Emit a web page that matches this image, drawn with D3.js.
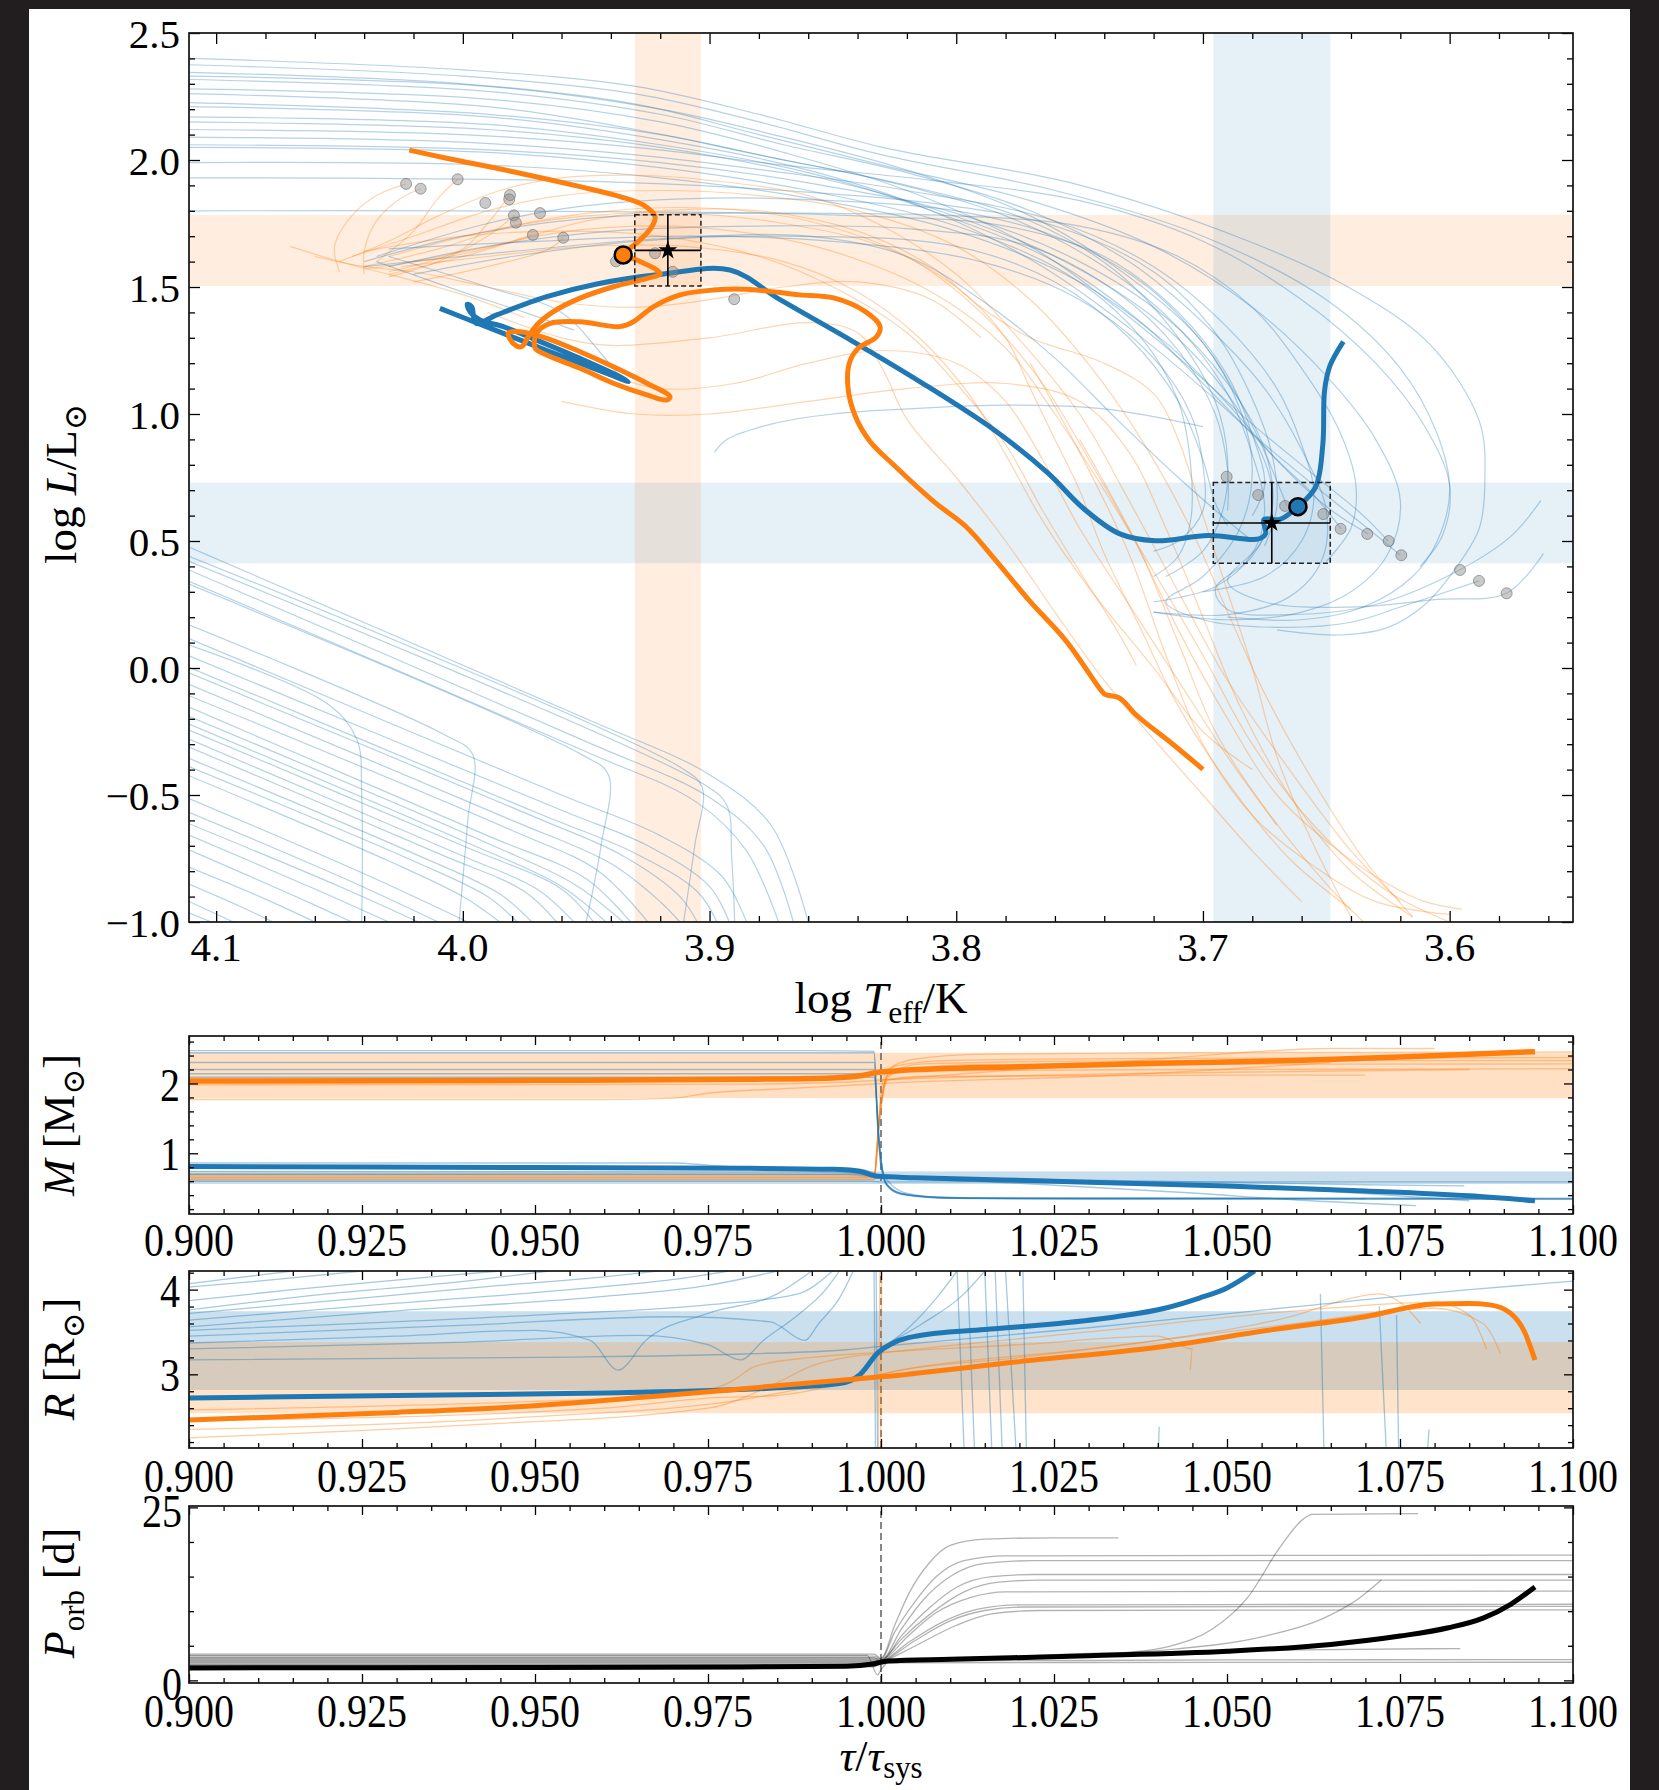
<!DOCTYPE html>
<html><head><meta charset="utf-8">
<script src="https://cdn.jsdelivr.net/npm/d3@7"></script>
<style>
body{margin:0;background:#221e1f;}
svg{display:block;}
text{font-family:"Liberation Serif","DejaVu Serif",serif;fill:#000;}
</style></head>
<body><svg id="c" width="1659" height="1790"></svg>
<script>
// ---------------- DATA ----------------
const teffTicks = [4.1, 4.0, 3.9, 3.8, 3.7, 3.6];
const teffTickLabels = ["4.1", "4.0", "3.9", "3.8", "3.7", "3.6"];
const lumTicks = [2.5, 2.0, 1.5, 1.0, 0.5, 0.0, -0.5, -1.0];
const lumTickLabels = ["2.5", "2.0", "1.5", "1.0", "0.5", "0.0", "\u22120.5", "\u22121.0"];
const tauTicks = [0.9, 0.925, 0.95, 0.975, 1.0, 1.025, 1.05, 1.075, 1.1];
const tauTickLabels = ["0.900", "0.925", "0.950", "0.975", "1.000", "1.025", "1.050", "1.075", "1.100"];
const massTicks = [1, 2];
const massTickLabels = ["1", "2"];
const radiusTicks = [3, 4];
const radiusTickLabels = ["3", "4"];
const porbTicks = [0, 25];
const porbTickLabels = ["0", "25"];

// observed stars: [accretor(orange), donor(blue)]
const obsTeff = [3.9169, 3.6721];
const obsTeffErr = [0.0134, 0.0237];
const obsLum = [1.644, 0.571];
const obsLumErr = [0.140, 0.159];
const bestTeffEnd = [3.935, 3.6615];
const bestLumEnd = [1.626, 0.635];

const grayDotsTeff = [4.023, 4.0171, 4.0021, 3.9909, 3.9809, 3.9812, 3.9793, 3.9785, 3.9687, 3.9716, 3.9593, 3.9379, 3.9221, 3.9149, 3.890,
  3.6904, 3.6776, 3.6667, 3.6512, 3.6442, 3.6334, 3.6247, 3.6196, 3.5958, 3.5881, 3.5769];
const grayDotsLum = [1.906, 1.887, 1.924, 1.831, 1.862, 1.845, 1.782, 1.753, 1.791, 1.705, 1.694, 1.601, 1.633, 1.560, 1.452,
  0.753, 0.681, 0.638, 0.606, 0.548, 0.528, 0.500, 0.444, 0.386, 0.343, 0.294];

// best-fit HR tracks
const hrOrangeBest = [[4.0217,2.039],[4.0066,2.007],[3.9796,1.954],[3.9525,1.895],[3.9363,1.856],[3.9269,1.823],[3.9221,1.777],[3.9234,1.737],[3.9282,1.685],[3.9329,1.646],[3.9343,1.626],[3.9295,1.606],[3.9214,1.567],[3.920,1.551],[3.9254,1.534],[3.939,1.501],[3.9525,1.456],[3.9633,1.403],[3.9701,1.350],[3.9735,1.304],[3.9762,1.265],[3.9796,1.278],[3.9816,1.318],[3.9768,1.324],[3.966,1.298],[3.9525,1.245],[3.939,1.186],[3.9254,1.121],[3.916,1.068],[3.9174,1.055],[3.9254,1.075],[3.939,1.121],[3.9525,1.180],[3.966,1.232],[3.9707,1.259],[3.9701,1.318],[3.9646,1.357],[3.9525,1.363],[3.9363,1.344],[3.9309,1.363],[3.9228,1.422],[3.9119,1.469],[3.8985,1.488],[3.885,1.491],[3.8714,1.478],[3.8633,1.469],[3.8497,1.457],[3.8367,1.402],[3.8309,1.345],[3.8324,1.303],[3.8396,1.260],[3.8432,1.205],[3.8439,1.106],[3.8410,0.993],[3.8352,0.895],[3.8251,0.797],[3.8092,0.656],[3.7962,0.558],[3.7846,0.431],[3.7701,0.262],[3.7556,0.108],[3.7412,-0.089],[3.7397,-0.104],[3.7339,-0.118],[3.7267,-0.188],[3.7122,-0.300],[3.700,-0.399]];
const hrBlueBest = [[4.0093,1.416],[3.9931,1.354],[3.9728,1.276],[3.9525,1.200],[3.939,1.150],[3.9329,1.127],[3.9363,1.147],[3.9525,1.219],[3.9701,1.291],[3.9836,1.344],[3.9931,1.370],[3.9971,1.403],[3.9982,1.432],[3.9964,1.422],[3.9947,1.357],[3.9863,1.390],[3.966,1.462],[3.9457,1.512],[3.9187,1.551],[3.8917,1.567],[3.8714,1.450],[3.8425,1.289],[3.8135,1.120],[3.7846,0.937],[3.7629,0.768],[3.7484,0.628],[3.7339,0.529],[3.7194,0.501],[3.6977,0.522],[3.6774,0.508],[3.6746,0.529],[3.6753,0.585],[3.6688,0.585],[3.6615,0.635],[3.6543,0.713],[3.6514,0.881],[3.6507,1.092],[3.6485,1.190],[3.6431,1.285]];

// thin blue tracks (donor models)
const hrBlueLong = [
 [[4.111,2.40],[4.00,2.355],[3.93,2.29],[3.88,2.18],[3.83,2.05],[3.7523,1.907],[3.6856,1.696],[3.6412,1.50],[3.608,1.274],[3.588,0.972],[3.5857,0.746],[3.588,0.55],[3.597,0.40],[3.61,0.25],[3.625,0.16],[3.645,0.13],[3.67,0.15]],
 [[4.111,2.375],[4.00,2.33],[3.93,2.26],[3.88,2.15],[3.83,2.02],[3.76,1.88],[3.70,1.70],[3.65,1.45],[3.62,1.18],[3.605,0.92],[3.60,0.70],[3.605,0.50],[3.615,0.36],[3.635,0.24],[3.66,0.19],[3.69,0.20]],
 [[4.111,2.345],[4.00,2.30],[3.93,2.22],[3.88,2.10],[3.83,1.98],[3.77,1.84],[3.72,1.66],[3.68,1.42],[3.65,1.15],[3.63,0.90],[3.62,0.66],[3.625,0.45],[3.64,0.30],[3.66,0.22],[3.69,0.19],[3.72,0.22]],
 [[4.111,2.317],[3.99,2.27],[3.92,2.18],[3.87,2.06],[3.82,1.95],[3.77,1.80],[3.73,1.60],[3.70,1.36],[3.675,1.10],[3.66,0.86],[3.65,0.62],[3.652,0.42],[3.665,0.28],[3.69,0.21],[3.72,0.22]],
 [[4.111,2.261],[3.99,2.21],[3.93,2.12],[3.88,2.02],[3.83,1.92],[3.78,1.78],[3.74,1.58],[3.71,1.34],[3.69,1.08],[3.68,0.84],[3.675,0.62],[3.68,0.45],[3.695,0.32],[3.72,0.26]],
 [[4.111,2.226],[3.99,2.18],[3.92,2.10],[3.87,2.00],[3.82,1.90],[3.77,1.76],[3.735,1.56],[3.71,1.30],[3.695,1.05],[3.69,0.82],[3.692,0.62],[3.70,0.46],[3.715,0.36]],
 [[4.111,2.12],[4.00,2.10],[3.93,2.05],[3.87,1.98],[3.81,1.92],[3.75,1.84],[3.70,1.68],[3.66,1.45],[3.63,1.20],[3.61,0.95],[3.60,0.72],[3.603,0.52],[3.612,0.40]],
 [[4.111,2.09],[4.00,2.07],[3.93,2.02],[3.87,1.95],[3.82,1.88],[3.76,1.76],[3.72,1.58],[3.69,1.34],[3.67,1.10],[3.66,0.88],[3.655,0.68],[3.66,0.50],[3.675,0.36],[3.70,0.30]],
 [[4.111,1.93],[4.00,1.925],[3.93,1.91],[3.87,1.88],[3.81,1.83],[3.76,1.74],[3.72,1.56],[3.695,1.32],[3.68,1.06],[3.672,0.84],[3.67,0.64],[3.675,0.48]],
 [[4.111,1.80],[4.00,1.80],[3.92,1.795],[3.85,1.79],[3.80,1.78],[3.75,1.74],[3.71,1.62],[3.68,1.42],[3.66,1.18],[3.645,0.94],[3.638,0.72],[3.64,0.55],[3.65,0.42]],
 [[4.111,1.99],[3.99,1.98],[3.92,1.93],[3.86,1.85],[3.80,1.72],[3.75,1.52],[3.715,1.28],[3.69,1.04],[3.672,0.84],[3.655,0.68],[3.644,0.548]],
 [[4.111,2.17],[3.99,2.14],[3.92,2.06],[3.86,1.95],[3.81,1.80],[3.76,1.60],[3.725,1.36],[3.70,1.12],[3.68,0.92],[3.66,0.72],[3.645,0.60],[3.633,0.528]],
 [[4.111,2.28],[3.99,2.24],[3.92,2.15],[3.87,2.03],[3.82,1.88],[3.77,1.66],[3.735,1.42],[3.705,1.18],[3.68,0.96],[3.655,0.76],[3.635,0.60],[3.625,0.50]],
 [[4.111,2.21],[3.99,2.17],[3.92,2.08],[3.86,1.96],[3.81,1.80],[3.765,1.58],[3.73,1.34],[3.70,1.10],[3.675,0.88],[3.65,0.68],[3.632,0.54],[3.62,0.444]],
 [[4.111,2.06],[3.99,2.04],[3.92,1.99],[3.86,1.91],[3.80,1.79],[3.75,1.60],[3.715,1.38],[3.69,1.12],[3.675,0.86],[3.672,0.62],[3.68,0.44],[3.695,0.31],[3.69,0.23],[3.665,0.21],[3.63,0.25],[3.596,0.386],[3.575,0.52],[3.563,0.66]],
 [[4.111,2.15],[3.99,2.12],[3.92,2.05],[3.86,1.94],[3.81,1.81],[3.76,1.62],[3.72,1.38],[3.695,1.14],[3.68,0.92],[3.672,0.70],[3.676,0.50],[3.69,0.34],[3.675,0.26],[3.64,0.24],[3.605,0.27],[3.577,0.294],[3.562,0.45]],
 [[4.111,2.33],[3.99,2.29],[3.92,2.20],[3.87,2.09],[3.82,1.96],[3.77,1.78],[3.73,1.54],[3.70,1.28],[3.685,1.02],[3.68,0.78],[3.685,0.55],[3.70,0.36],[3.715,0.26],[3.70,0.19],[3.67,0.16],[3.64,0.18],[3.62,0.24],[3.588,0.343]],
 [[4.111,2.05],[3.99,2.03],[3.92,1.97],[3.86,1.88],[3.80,1.74],[3.755,1.55],[3.725,1.30],[3.71,1.05],[3.705,0.80],[3.705,0.58],[3.71,0.44],[3.72,0.36]]
];
const hrBlueCluster = [
 [[4.04,1.60],[4.00,1.70],[3.95,1.77],[3.90,1.79],[3.84,1.78],[3.78,1.74],[3.74,1.62],[3.71,1.40],[3.69,1.15],[3.68,0.92],[3.675,0.72],[3.68,0.60]],
 [[4.03,1.58],[3.99,1.66],[3.94,1.72],[3.88,1.74],[3.82,1.73],[3.77,1.66],[3.735,1.48],[3.71,1.25],[3.695,1.00],[3.69,0.78],[3.69,0.62]],
 [[4.02,1.55],[3.98,1.62],[3.93,1.68],[3.87,1.70],[3.80,1.66],[3.76,1.52],[3.73,1.30],[3.71,1.05],[3.70,0.82],[3.695,0.65],[3.69,0.56]],
 [[4.035,1.62],[3.99,1.75],[3.95,1.82],[3.90,1.85],[3.85,1.84],[3.80,1.80],[3.76,1.70],[3.725,1.52],[3.70,1.28],[3.685,1.05],[3.675,0.85],[3.666,0.64]],
 [[4.03,1.65],[3.97,1.68],[3.91,1.70],[3.85,1.68],[3.79,1.60],[3.75,1.45],[3.72,1.22],[3.705,1.00],[3.70,0.80],[3.70,0.62],[3.71,0.50],[3.72,0.46]],
 [[4.04,1.58],[3.98,1.64],[3.92,1.69],[3.86,1.70],[3.82,1.62],[3.79,1.45],[3.76,1.22],[3.735,0.98],[3.71,0.75],[3.69,0.58],[3.68,0.50]],
 [[4.035,1.60],[4.00,1.48],[3.975,1.40],[3.955,1.33]],
 [[4.03,1.62],[3.99,1.50],[3.96,1.40],[3.945,1.25],[3.935,1.13]],
 [[3.898,0.85],[3.893,0.90],[3.875,0.96],[3.85,1.00],[3.82,1.02],[3.78,1.035],[3.74,1.02],[3.70,0.95]]
];
const hrBlueDiag = [
 [[4.111,0.476],[3.95,-0.20],[3.90,-0.42],[3.875,-0.62],[3.86,-1.0]],
 [[4.111,0.386],[3.95,-0.29],[3.90,-0.51],[3.878,-0.70],[3.866,-1.0]],
 [[4.111,0.341],[3.95,-0.33],[3.905,-0.53],[3.885,-0.72],[3.872,-1.0]],
 [[4.111,0.116],[3.96,-0.50],[3.92,-0.66],[3.895,-0.82],[3.885,-1.0]],
 [[4.111,0.048],[3.96,-0.56],[3.925,-0.70],[3.90,-0.86],[3.892,-1.0]],
 [[4.111,0.003],[3.97,-0.57],[3.93,-0.73],[3.905,-0.88],[3.897,-1.0]],
 [[4.111,-0.019],[3.97,-0.59],[3.935,-0.74],[3.912,-0.90],[3.905,-1.0]],
 [[4.111,-0.064],[3.98,-0.60],[3.94,-0.77],[3.92,-0.92],[3.912,-1.0]],
 [[4.111,-0.109],[3.98,-0.64],[3.945,-0.80],[3.925,-1.0]],
 [[4.111,-0.154],[3.99,-0.66],[3.95,-0.83],[3.932,-1.0]],
 [[4.111,-0.19],[3.99,-0.69],[3.955,-0.85],[3.935,-1.0]],
 [[4.111,-0.221],[4.0,-0.68],[3.96,-0.86],[3.942,-1.0]],
 [[4.111,-0.244],[4.0,-0.70],[3.96,-0.87],[3.947,-1.0]],
 [[4.111,-0.28],[4.0,-0.74],[3.97,-0.87],[3.955,-1.0]],
 [[4.111,-0.311],[4.01,-0.73],[3.975,-0.88],[3.962,-1.0]],
 [[4.111,-0.356],[4.02,-0.73],[3.985,-0.89],[3.972,-1.0]],
 [[4.111,-0.388],[4.02,-0.76],[3.99,-0.90],[3.978,-1.0]],
 [[4.111,-0.424],[4.03,-0.76],[4.0,-0.90],[3.985,-1.0]],
 [[4.111,-0.514],[4.04,-0.81],[3.998,-1.0]],
 [[4.111,-0.568],[4.05,-0.82],[4.01,-1.0]],
 [[4.111,-0.613],[4.05,-0.86],[4.018,-1.0]],
 [[4.111,-0.658],[4.06,-0.87],[4.03,-1.0]],
 [[4.111,-0.716],[4.07,-0.89],[4.045,-1.0]],
 [[4.111,-0.784],[4.08,-0.91],[4.06,-1.0]],
 [[4.111,-0.851],[4.09,-0.94],[4.077,-1.0]],
 [[4.111,-0.919],[4.093,-1.0]],
 [[4.111,-0.964],[4.102,-1.0]],
 [[4.111,0.09],[4.055,-0.14],[4.043,-0.28],[4.041,-0.5],[4.041,-1.0]],
 [[4.111,0.17],[4.008,-0.26],[3.996,-0.34],[3.998,-0.6],[4.0015,-1.0]],
 [[4.111,0.33],[3.952,-0.34],[3.941,-0.42],[3.944,-0.7],[3.95,-1.0]],
 [[4.111,0.44],[3.912,-0.39],[3.903,-0.47],[3.906,-0.7],[3.9105,-1.0]],
 [[4.111,0.42],[3.902,-0.46],[3.893,-0.54],[3.891,-0.75],[3.8898,-1.0]]
];
// thin orange tracks (accretor models)
const hrOrangeThin = [
 [[4.045,1.62],[4.02,1.70],[3.99,1.80],[3.96,1.86],[3.92,1.88],[3.88,1.86],[3.84,1.80],[3.80,1.66],[3.77,1.45],[3.745,1.18],[3.725,0.90],[3.705,0.55],[3.69,0.22],[3.675,-0.10],[3.655,-0.45],[3.635,-0.75],[3.615,-0.98]],
 [[4.04,1.58],[4.01,1.65],[3.98,1.74],[3.94,1.80],[3.90,1.81],[3.86,1.76],[3.82,1.62],[3.79,1.40],[3.765,1.12],[3.745,0.80],[3.725,0.45],[3.71,0.10],[3.695,-0.25],[3.675,-0.55],[3.65,-0.85],[3.635,-1.0]],
 [[4.03,1.55],[4.00,1.62],[3.97,1.70],[3.93,1.74],[3.89,1.72],[3.85,1.64],[3.81,1.48],[3.78,1.26],[3.76,1.00],[3.74,0.70],[3.72,0.38],[3.70,0.05],[3.68,-0.30],[3.655,-0.62],[3.625,-0.88],[3.60,-1.0]],
 [[4.05,1.60],[4.03,1.68],[4.01,1.78],[3.985,1.88],[3.96,1.93],[3.93,1.94],[3.90,1.92],[3.86,1.86],[3.83,1.74],[3.80,1.55],[3.775,1.30],[3.75,1.00],[3.73,0.66],[3.71,0.30],[3.69,-0.05],[3.665,-0.40],[3.64,-0.72],[3.62,-0.92]],
 [[4.02,1.60],[3.98,1.68],[3.95,1.76],[3.92,1.80],[3.88,1.80],[3.84,1.72],[3.81,1.58],[3.79,1.42],[3.77,1.30],[3.74,1.20],[3.72,1.08],[3.71,0.90],[3.70,0.60],[3.69,0.30],[3.68,0.00],[3.67,-0.35],[3.655,-0.70],[3.64,-0.98]],
 [[4.03,1.62],[3.99,1.72],[3.95,1.78],[3.91,1.79],[3.87,1.75],[3.83,1.66],[3.80,1.50],[3.78,1.30],[3.77,1.10],[3.76,0.90],[3.75,0.70],[3.74,0.45],[3.725,0.15],[3.71,-0.15],[3.69,-0.45],[3.665,-0.75],[3.64,-0.95]],
 [[4.04,1.64],[4.00,1.70],[3.96,1.72],[3.92,1.70],[3.88,1.62],[3.85,1.50],[3.82,1.32],[3.80,1.12],[3.78,0.88],[3.765,0.62],[3.75,0.38],[3.735,0.15],[3.727,0.01]],
 [[4.025,1.58],[3.99,1.62],[3.95,1.66],[3.91,1.66],[3.87,1.60],[3.84,1.48],[3.815,1.30],[3.795,1.08],[3.78,0.84],[3.765,0.58],[3.745,0.30],[3.72,0.00],[3.70,-0.25],[3.68,-0.40]],
 [[4.05,1.56],[4.052,1.66],[4.045,1.78],[4.035,1.86],[4.023,1.906]],
 [[4.04,1.55],[4.04,1.64],[4.035,1.76],[4.025,1.85],[4.017,1.887]],
 [[4.035,1.60],[4.02,1.72],[4.01,1.85],[4.002,1.924]],
 [[4.03,1.56],[4.00,1.65],[3.99,1.75],[3.981,1.862]],
 [[4.03,1.54],[4.01,1.60],[3.99,1.70],[3.979,1.782]],
 [[4.04,1.57],[4.00,1.63],[3.98,1.68],[3.972,1.705]],
 [[4.02,1.52],[3.99,1.58],[3.965,1.65],[3.9593,1.694]],
 [[3.99,1.40],[3.96,1.30],[3.94,1.27],[3.90,1.30],[3.86,1.36],[3.84,1.32],[3.83,1.18],[3.82,0.98],[3.80,0.75],[3.78,0.50],[3.76,0.22],[3.74,-0.05],[3.72,-0.28],[3.70,-0.50],[3.68,-0.72],[3.66,-0.92]],
 [[3.97,1.25],[3.94,1.15],[3.92,1.10],[3.89,1.12],[3.86,1.20],[3.83,1.25],[3.80,1.20],[3.78,1.05],[3.765,0.82],[3.75,0.55],[3.73,0.25],[3.71,-0.05],[3.69,-0.35],[3.67,-0.62]],
 [[3.96,1.05],[3.93,1.00],[3.90,1.00],[3.86,1.05],[3.82,1.10],[3.78,1.12],[3.75,1.05],[3.73,0.85],[3.715,0.55],[3.70,0.20],[3.685,-0.15],[3.665,-0.50],[3.64,-0.80],[3.615,-0.98]],
 [[3.75,0.90],[3.73,0.55],[3.71,0.15],[3.69,-0.20],[3.67,-0.50],[3.645,-0.72],[3.625,-0.85],[3.61,-0.92],[3.595,-0.95]],
 [[3.77,1.20],[3.75,0.85],[3.73,0.45],[3.715,0.05],[3.70,-0.30],[3.68,-0.58],[3.655,-0.78],[3.63,-0.92],[3.60,-0.97]],
 [[4.06,1.62],[4.04,1.58],[4.02,1.56],[3.99,1.50],[3.96,1.44],[3.93,1.42],[3.90,1.45],[3.87,1.50],[3.84,1.52],[3.81,1.45],[3.79,1.30]],
 [[4.07,1.66],[4.05,1.60],[4.03,1.55],[4.00,1.47],[3.975,1.38]]
];

// time-panel series
const massOrangeBest = [[0.9,2.035],[0.95,2.045],[0.98,2.06],[0.993,2.08],[0.997,2.11],[0.9995,2.16],[1.002,2.18],[1.02,2.24],[1.04,2.29],[1.06,2.33],[1.075,2.38],[1.085,2.42],[1.0945,2.455]];
const massBlueBest = [[0.9,0.81],[0.95,0.795],[0.98,0.785],[0.993,0.77],[0.997,0.74],[0.9995,0.67],[1.005,0.65],[1.025,0.60],[1.05,0.53],[1.07,0.46],[1.085,0.39],[1.0945,0.32]];
const massBlueThin = [
 [[0.9,2.47],[0.99,2.47],[0.999,2.46],[0.9995,1.5],[1.0,0.8],[1.0015,0.55],[1.004,0.42],[1.01,0.36],[1.03,0.345],[1.1,0.34]],
 [[0.9,2.44],[0.999,2.44],[0.9995,1.4],[1.0005,0.6],[1.002,0.45],[1.006,0.38],[1.015,0.36],[1.1,0.355]],
 [[0.9,2.30],[0.999,2.30],[0.9996,1.3],[1.0006,0.6],[1.0025,0.43],[1.008,0.37],[1.02,0.35],[1.07,0.35]],
 [[0.9,2.20],[0.999,2.20],[0.9997,1.2],[1.0007,0.58],[1.003,0.42],[1.01,0.36],[1.1,0.35]],
 [[0.9,2.14],[0.999,2.14],[0.9997,1.2],[1.0007,0.56],[1.003,0.41],[1.01,0.355],[1.06,0.35]],
 [[0.9,2.09],[0.999,2.09],[0.9998,1.1],[1.0008,0.55],[1.004,0.40],[1.012,0.35],[1.1,0.345]],
 [[0.9,0.86],[0.97,0.86],[0.975,0.83],[0.98,0.80],[0.995,0.79],[0.999,0.72],[1.0,0.68],[1.03,0.60],[1.06,0.48],[1.085,0.32]],
 [[0.9,0.74],[0.99,0.73],[0.999,0.70],[1.0,0.67],[1.04,0.60],[1.07,0.55],[1.0843,0.533]],
 [[0.9,0.70],[0.995,0.70],[1.0,0.66],[1.02,0.57],[1.045,0.43],[1.06,0.33],[1.0773,0.25]],
 [[0.9,0.60],[0.998,0.60],[1.0,0.59],[1.1,0.59]]
];
const massOrangeThin = [
 [[0.9,0.68],[0.995,0.68],[0.999,0.67],[0.9995,1.2],[1.0,1.9],[1.001,2.2],[1.005,2.35],[1.015,2.42],[1.04,2.44],[1.1,2.45]],
 [[0.9,0.65],[0.999,0.65],[0.9996,1.3],[1.0005,2.0],[1.002,2.25],[1.01,2.33],[1.04,2.36],[1.1,2.37]],
 [[0.9,0.63],[0.999,0.63],[0.9997,1.4],[1.0007,2.05],[1.003,2.2],[1.015,2.27],[1.1,2.28]],
 [[0.9,0.70],[0.999,0.70],[0.9998,1.5],[1.0008,2.1],[1.004,2.18],[1.05,2.2],[1.1,2.21]],
 [[0.9,0.62],[0.999,0.62],[0.9999,1.6],[1.001,2.05],[1.005,2.1],[1.06,2.12],[1.07,2.12]],
 [[0.9,0.66],[0.999,0.66],[0.9999,1.7],[1.0012,2.15],[1.006,2.28],[1.03,2.32],[1.1,2.33]],
 [[1.0,2.05],[1.02,2.2],[1.04,2.35],[1.055,2.46],[1.065,2.5],[1.08,2.5]],
 [[0.9,1.77],[0.96,1.77],[0.97,1.79],[0.975,1.86],[0.985,1.92],[0.995,1.97],[1.0,2.0],[1.03,2.1],[1.065,2.3]],
 [[0.9,1.98],[0.98,1.99],[0.995,2.02],[1.0,2.05],[1.05,2.16],[1.085,2.2]]
];
const radiusOrangeBest = [[0.9,2.46],[0.93,2.55],[0.95,2.63],[0.97,2.76],[0.99,2.90],[1.0,2.97],[1.02,3.15],[1.04,3.32],[1.056,3.52],[1.07,3.68],[1.08,3.83],[1.085,3.835],[1.088,3.82],[1.091,3.72],[1.093,3.50],[1.0945,3.17]];
const radiusBlueBest = [[0.9,2.72],[0.93,2.75],[0.96,2.78],[0.985,2.84],[0.994,2.89],[0.997,3.0],[0.9995,3.25],[1.002,3.38],[1.005,3.45],[1.015,3.53],[1.0256,3.60],[1.034,3.68],[1.041,3.78],[1.046,3.90],[1.05,4.02],[1.054,4.22]];
const radiusBlueThin = [
 [[0.9,3.56],[0.93,3.75],[0.96,3.92],[0.975,4.05],[0.985,4.22]],
 [[0.9,3.64],[0.93,3.84],[0.955,4.0],[0.97,4.12],[0.978,4.22]],
 [[0.9,3.72],[0.925,3.9],[0.945,4.05],[0.96,4.15],[0.968,4.22]],
 [[0.9,3.76],[0.92,3.95],[0.94,4.1],[0.952,4.22]],
 [[0.9,3.87],[0.915,4.0],[0.935,4.15],[0.945,4.22]],
 [[0.9,4.03],[0.91,4.1],[0.925,4.22]],
 [[0.9,4.07],[0.905,4.12],[0.915,4.22]],
 [[0.9,3.37],[0.93,3.45],[0.95,3.52],[0.958,3.4],[0.962,3.05],[0.966,3.4],[0.975,3.72],[0.985,3.95],[0.99,4.22]],
 [[0.9,3.30],[0.94,3.38],[0.965,3.46],[0.975,3.35],[0.9797,3.17],[0.983,3.4],[0.988,3.7],[0.992,4.0],[0.994,4.22]],
 [[0.9,3.45],[0.94,3.58],[0.97,3.68],[0.984,3.62],[0.989,3.40],[0.991,3.6],[0.994,3.9],[0.996,4.22]],
 [[0.9,3.17],[0.95,3.20],[0.98,3.24],[0.995,3.29],[1.0,3.33],[1.03,3.55],[1.06,3.80],[1.085,4.0],[1.1,4.1]],
 [[0.9,3.52],[0.95,3.70],[0.975,3.82],[0.988,3.95],[0.993,4.22]],
 [[0.9990,4.22],[0.9992,2.13]],
 [[0.9993,4.22],[0.9995,2.13]],
 [[1.0,3.30],[1.004,3.55],[1.008,3.9],[1.011,4.22]],
 [[1.0,3.32],[1.006,3.6],[1.012,3.95],[1.015,4.22]],
 [[1.011,4.22],[1.012,2.13]],
 [[1.0125,4.22],[1.0135,2.13]],
 [[1.015,4.22],[1.016,2.13]],
 [[1.0165,4.22],[1.0175,2.13]],
 [[1.018,4.22],[1.0195,2.13]],
 [[1.0205,4.22],[1.021,2.13]],
 [[1.0635,3.95],[1.064,2.13]],
 [[1.072,3.80],[1.073,2.13]],
 [[1.0745,3.70],[1.0748,2.13]],
 [[1.0401,2.13],[1.0402,2.38]],
 [[1.0790,2.13],[1.0792,2.35]]
];
const radiusOrangeThin = [
 [[0.9,2.35],[0.95,2.5],[0.98,2.7],[0.99,2.85],[0.998,2.95],[1.0,3.0],[1.02,3.2],[1.04,3.4],[1.06,3.7],[1.068,3.9],[1.072,3.95],[1.075,3.85],[1.078,3.6]],
 [[0.9,2.25],[0.94,2.4],[0.975,2.6],[0.985,2.9],[0.99,3.1],[0.995,3.2],[1.0,3.25],[1.03,3.5],[1.06,3.75],[1.08,3.85],[1.085,3.7],[1.0875,3.3]],
 [[0.9,2.58],[0.95,2.68],[0.97,2.75],[0.978,2.9],[0.982,3.1],[0.99,3.2],[1.0,3.26],[1.02,3.35],[1.04,3.45],[1.045,3.3],[1.0447,3.05]],
 [[0.9,2.45],[0.96,2.6],[0.975,2.72],[0.985,2.75],[0.995,2.9],[1.0,3.0],[1.03,3.3],[1.06,3.6],[1.08,3.78],[1.087,3.6],[1.0895,3.25]],
 [[0.9996,2.13],[0.99985,4.22]],
 [[0.99995,2.13],[1.0001,4.22]]
];
const porbBest = [[0.9,1.8],[0.95,1.85],[0.98,1.95],[0.995,2.05],[0.999,2.4],[1.001,2.8],[1.01,3.05],[1.03,3.55],[1.05,4.2],[1.065,5.2],[1.075,6.4],[1.082,7.6],[1.087,9.0],[1.091,11.0],[1.0945,13.5]];
const porbThin = [
 [[0.9,3.8],[0.999,3.8],[1.0,3.2],[1.002,8],[1.004,12.5],[1.007,17.0],[1.01,19.5],[1.015,20.4],[1.025,20.6],[1.0343,20.6]],
 [[0.9,3.5],[0.999,3.5],[1.0,3.1],[1.002,7],[1.005,11.5],[1.008,15],[1.012,17.3],[1.018,18.0],[1.1,18.1]],
 [[0.9,3.2],[0.999,3.2],[1.0,3.0],[1.003,7.5],[1.006,11.5],[1.01,15.0],[1.015,16.9],[1.022,17.3],[1.1,17.3]],
 [[0.9,2.9],[0.999,2.9],[1.0,2.9],[1.003,6.5],[1.007,10.5],[1.011,13.5],[1.016,15.0],[1.022,15.3],[1.1,15.3]],
 [[0.9,2.6],[0.999,2.6],[1.0,2.8],[1.003,6.0],[1.007,9.5],[1.012,12.8],[1.017,14.2],[1.023,14.5],[1.1,14.5]],
 [[0.9,2.4],[0.999,2.4],[1.0,2.7],[1.004,6.5],[1.008,9.8],[1.013,12.0],[1.018,12.8],[1.1,12.9]],
 [[0.9,2.25],[0.999,2.25],[1.0,2.6],[1.004,5.5],[1.009,8.5],[1.014,10.3],[1.02,10.9],[1.1,11.0]],
 [[0.9,2.15],[0.999,2.15],[1.0,2.55],[1.005,5.8],[1.01,8.6],[1.015,10.1],[1.021,10.6],[1.1,10.7]],
 [[0.9,2.05],[0.999,2.05],[1.0,2.5],[1.005,5.0],[1.011,8.0],[1.016,9.6],[1.023,10.1],[1.1,10.2]],
 [[0.9,1.95],[0.999,1.95],[1.0,2.6],[1.02,3.3],[1.035,4.0],[1.042,5.0],[1.048,7.5],[1.053,12.0],[1.0577,19.3],[1.061,23.3],[1.0623,24.0],[1.0776,24.1]],
 [[0.9,2.7],[0.999,2.7],[1.0,2.65],[1.02,3.3],[1.04,4.3],[1.055,6.3],[1.064,9.0],[1.069,11.8],[1.0723,14.5]],
 [[0.9,3.0],[0.999,3.0],[1.0,2.7],[1.03,3.9],[1.05,4.3],[1.0837,4.6]],
 [[0.9,3.3],[0.999,3.3],[1.0,2.8],[1.05,2.95],[1.1,3.0]],
 [[0.9,3.6],[0.998,3.6],[0.9995,0.8],[1.0,1.5],[1.001,2.55],[1.05,2.6],[1.1,2.62]]
];
const massBandOrange = [1.79, 2.44];
const massBandBlue = [0.56, 0.74];
const radiusBandOrange = [2.54, 3.38];
const radiusBandBlue = [2.815, 3.745];

// ---------------- DRAWING ----------------
const W = 1659, H = 1790;
const BLUE = "#1f77b4", ORANGE = "#ff7f0e";
const svg = d3.select("#c");
svg.append("rect").attr("width", W).attr("height", H).attr("fill", "#221e1f");
svg.append("rect").attr("x", 29).attr("y", 9).attr("width", 1601).attr("height", H - 9).attr("fill", "#fff");
const defs = svg.append("defs");

const xT = d3.scaleLinear().domain([4.111, 3.55]).range([189, 1573]);
const yL = d3.scaleLinear().domain([-1, 2.5]).range([922, 33]);
const xTau = d3.scaleLinear().domain([0.9, 1.1]).range([189, 1573]);
const yM = d3.scaleLinear().domain([0.13, 2.68]).range([1214, 1036]);
const yR = d3.scaleLinear().domain([2.13, 4.22]).range([1448, 1271]);
const yP = d3.scaleLinear().domain([-0.38, 25.2]).range([1683, 1506]);

function clipFor(id, xs, ys) {
  const [l, r] = xs.range(), [b, t] = ys.range();
  defs.append("clipPath").attr("id", id).append("rect").attr("x", l).attr("y", t).attr("width", r - l).attr("height", b - t);
  return svg.append("g").attr("clip-path", `url(#${id})`);
}

function frame(xs, ys, xMaj, xMin, yMaj, yMin, maj, mnr) {
  const g = svg.append("g");
  const [l, r] = xs.range(), [b, t] = ys.range();
  const mk = (axis, tr) => {
    const a = g.append("g").attr("transform", tr).call(axis);
    a.select(".domain").remove();
    a.selectAll("text").remove();
    a.attr("color", "#000");
    a.selectAll("line").attr("stroke-width", 1.3);
  };
  [[xMaj, maj], [xMin, mnr]].forEach(([v, len]) => {
    mk(d3.axisBottom(xs).tickValues(v).tickSizeInner(-len).tickSizeOuter(0).tickFormat(""), `translate(0,${b})`);
    mk(d3.axisTop(xs).tickValues(v).tickSizeInner(-len).tickSizeOuter(0).tickFormat(""), `translate(0,${t})`);
  });
  [[yMaj, maj], [yMin, mnr]].forEach(([v, len]) => {
    mk(d3.axisLeft(ys).tickValues(v).tickSizeInner(-len).tickSizeOuter(0).tickFormat(""), `translate(${l},0)`);
    mk(d3.axisRight(ys).tickValues(v).tickSizeInner(-len).tickSizeOuter(0).tickFormat(""), `translate(${r},0)`);
  });
  g.append("rect").attr("x", l).attr("y", t).attr("width", r - l).attr("height", b - t)
    .attr("fill", "none").attr("stroke", "#111").attr("stroke-width", 1.7);
}

function xLabels(xs, vals, labels, baseline, size, sy) {
  vals.forEach((v, i) => svg.append("text")
    .attr("transform", `translate(${xs(v)},${baseline}) scale(1,${sy})`)
    .attr("text-anchor", "middle").attr("font-size", size).text(labels[i]));
}
function yLabels(ys, vals, labels, xr, size, sy, extra) {
  vals.forEach((v, i) => svg.append("text")
    .attr("transform", `translate(${xr},${ys(v) + 0.33 * size * sy + (extra || 1.5)}) scale(1,${sy})`)
    .attr("text-anchor", "end").attr("font-size", size).text(labels[i]));
}
function richText(x, y, parts, size, rot, subShift) {
  const t = svg.append("text").attr("font-size", size).attr("text-anchor", "middle")
    .attr("transform", rot ? `translate(${x},${y}) rotate(-90)` : `translate(${x},${y})`);
  let shift = 0;
  parts.forEach(p => {
    const ts = t.append("tspan").text(p.t);
    if (p.i) ts.attr("font-style", "italic");
    const target = p.sub ? size * (subShift || 0.22) : 0;
    if (target !== shift) { ts.attr("dy", target - shift); shift = target; }
    if (p.sub) ts.attr("font-size", size * 0.7);
  });
}

// ---------- HR panel ----------
const gHR = clipFor("clipHR", xT, yL);
const [hl, hr] = xT.range(), [hb, ht] = yL.range();
gHR.append("rect").attr("x", hl).attr("width", hr - hl)
  .attr("y", yL(obsLum[0] + obsLumErr[0])).attr("height", yL(obsLum[0] - obsLumErr[0]) - yL(obsLum[0] + obsLumErr[0]))
  .attr("fill", ORANGE).attr("opacity", 0.13);
gHR.append("rect").attr("x", xT(obsTeff[0] + obsTeffErr[0])).attr("width", xT(obsTeff[0] - obsTeffErr[0]) - xT(obsTeff[0] + obsTeffErr[0]))
  .attr("y", ht).attr("height", hb - ht).attr("fill", ORANGE).attr("opacity", 0.13);
gHR.append("rect").attr("x", hl).attr("width", hr - hl)
  .attr("y", yL(obsLum[1] + obsLumErr[1])).attr("height", yL(obsLum[1] - obsLumErr[1]) - yL(obsLum[1] + obsLumErr[1]))
  .attr("fill", BLUE).attr("opacity", 0.11);
gHR.append("rect").attr("x", xT(obsTeff[1] + obsTeffErr[1])).attr("width", xT(obsTeff[1] - obsTeffErr[1]) - xT(obsTeff[1] + obsTeffErr[1]))
  .attr("y", ht).attr("height", hb - ht).attr("fill", BLUE).attr("opacity", 0.11);

const lineHR = d3.line().x(d => xT(d[0])).y(d => yL(d[1])).curve(d3.curveCatmullRom.alpha(0.5));
function thin(g, data, line, color, op, w) {
  g.selectAll(null).data(data).enter().append("path").attr("d", line)
    .attr("fill", "none").attr("stroke", color).attr("stroke-opacity", op).attr("stroke-width", w);
}
thin(gHR, hrBlueDiag, lineHR, BLUE, 0.33, 1.2);
thin(gHR, hrBlueLong, lineHR, BLUE, 0.33, 1.2);
thin(gHR, hrOrangeThin, lineHR, ORANGE, 0.33, 1.2);
thin(gHR, hrBlueCluster, lineHR, BLUE, 0.33, 1.2);

gHR.append("path").attr("d", lineHR(hrBlueBest)).attr("fill", "none").attr("stroke", BLUE).attr("stroke-width", 5).attr("stroke-linejoin", "round");
gHR.append("path").attr("d", lineHR(hrOrangeBest)).attr("fill", "none").attr("stroke", ORANGE).attr("stroke-width", 5).attr("stroke-linejoin", "round");

gHR.selectAll(null).data(grayDotsTeff).enter().append("circle")
  .attr("cx", d => xT(d)).attr("cy", (d, i) => yL(grayDotsLum[i])).attr("r", 5.5)
  .attr("fill", "#8a8a8a").attr("fill-opacity", 0.45).attr("stroke", "#6a6a6a").attr("stroke-opacity", 0.6).attr("stroke-width", 1);

obsTeff.forEach((t, i) => {
  const x0 = xT(t + obsTeffErr[i]), x1 = xT(t - obsTeffErr[i]);
  const y0 = yL(obsLum[i] + obsLumErr[i]), y1 = yL(obsLum[i] - obsLumErr[i]);
  gHR.append("rect").attr("x", x0).attr("y", y0).attr("width", x1 - x0).attr("height", y1 - y0)
    .attr("fill", "none").attr("stroke", "#222").attr("stroke-width", 1.5).attr("stroke-dasharray", "5,3");
  gHR.append("line").attr("x1", x0).attr("x2", x1).attr("y1", yL(obsLum[i])).attr("y2", yL(obsLum[i])).attr("stroke", "#000").attr("stroke-width", 1.6);
  gHR.append("line").attr("x1", xT(t)).attr("x2", xT(t)).attr("y1", y0).attr("y2", y1).attr("stroke", "#000").attr("stroke-width", 1.6);
  gHR.append("path").attr("d", d3.symbol(d3.symbolStar, 110)()).attr("transform", `translate(${xT(t)},${yL(obsLum[i])})`).attr("fill", "#000");
});
bestTeffEnd.forEach((t, i) => {
  gHR.append("circle").attr("cx", xT(t)).attr("cy", yL(bestLumEnd[i])).attr("r", 8.5)
    .attr("fill", i === 0 ? ORANGE : BLUE).attr("stroke", "#000").attr("stroke-width", 2.5);
});

const hrXMinor = d3.range(178, 206).filter(i => i % 5 !== 0).map(i => i / 50);
const hrYMinor = d3.range(-10, 26).filter(i => i % 5 !== 0).map(i => i / 10);
frame(xT, yL, teffTicks, hrXMinor, lumTicks, hrYMinor, 11, 6);
xLabels(xT, teffTicks, teffTickLabels, 961, 41, 1);
yLabels(yL, lumTicks, lumTickLabels, 180, 41, 1);
richText(76, 484, [{t: "log "}, {t: "L", i: true}, {t: "/L"}, {t: "\u2299", sub: true}], 45, true);
richText(881, 1013, [{t: "log "}, {t: "T", i: true}, {t: "eff", sub: true}, {t: "/K"}], 45, false);

// ---------- time panels ----------
const tauMinor = d3.range(180, 221).filter(i => i % 5 !== 0).map(i => i / 200);
const lineOf = ys => d3.line().x(d => xTau(d[0])).y(d => ys(d[1])).curve(d3.curveMonotoneX);

function band(g, ys, range, color, op) {
  g.append("rect").attr("x", 189).attr("width", 1573 - 189).attr("y", ys(range[1])).attr("height", ys(range[0]) - ys(range[1]))
    .attr("fill", color).attr("opacity", op);
}
function vdash(g, ys) {
  g.append("line").attr("x1", xTau(1)).attr("x2", xTau(1)).attr("y1", ys.range()[0]).attr("y2", ys.range()[1])
    .attr("stroke", "#6a6a6a").attr("stroke-width", 1.6).attr("stroke-dasharray", "7,4");
}

// Mass
const gM = clipFor("clipM", xTau, yM);
band(gM, yM, massBandOrange, ORANGE, 0.24);
band(gM, yM, massBandBlue, BLUE, 0.24);
vdash(gM, yM);
const lM = lineOf(yM);
thin(gM, massOrangeThin, lM, ORANGE, 0.4, 1.4);
thin(gM, massBlueThin, lM, BLUE, 0.4, 1.4);
gM.append("path").attr("d", lM(massBlueBest)).attr("fill", "none").attr("stroke", BLUE).attr("stroke-width", 5);
gM.append("path").attr("d", lM(massOrangeBest)).attr("fill", "none").attr("stroke", ORANGE).attr("stroke-width", 5.5);
frame(xTau, yM, tauTicks, tauMinor, massTicks, d3.range(1, 14).filter(i => i % 5 !== 0).map(i => i / 5), 9, 5);
xLabels(xTau, tauTicks, tauTickLabels, 1256, 40, 1.18);
yLabels(yM, massTicks, massTickLabels, 180, 40, 1.18);
richText(74, 1125, [{t: "M", i: true}, {t: " [M"}, {t: "\u2299", sub: true}, {t: "]"}], 44, true);

// Radius
const gR = clipFor("clipR", xTau, yR);
band(gR, yR, radiusBandBlue, BLUE, 0.23);
band(gR, yR, radiusBandOrange, ORANGE, 0.22);
vdash(gR, yR);
const lR = lineOf(yR);
thin(gR, radiusOrangeThin, lR, ORANGE, 0.4, 1.3);
thin(gR, radiusBlueThin, lR, BLUE, 0.4, 1.3);
gR.append("path").attr("d", lR(radiusBlueBest)).attr("fill", "none").attr("stroke", BLUE).attr("stroke-width", 5);
gR.append("path").attr("d", lR(radiusOrangeBest)).attr("fill", "none").attr("stroke", ORANGE).attr("stroke-width", 5);
frame(xTau, yR, tauTicks, tauMinor, radiusTicks, d3.range(11, 22).filter(i => i % 5 !== 0).map(i => i / 5), 9, 5);
xLabels(xTau, tauTicks, tauTickLabels, 1492, 40, 1.18);
yLabels(yR, radiusTicks, radiusTickLabels, 180, 40, 1.18);
richText(74, 1359, [{t: "R", i: true}, {t: " [R"}, {t: "\u2299", sub: true}, {t: "]"}], 44, true);

// Orbital period
const gP = clipFor("clipP", xTau, yP);
vdash(gP, yP);
const lP = lineOf(yP);
thin(gP, porbThin, lP, "#000", 0.3, 1.3);
gP.append("path").attr("d", lP(porbBest)).attr("fill", "none").attr("stroke", "#000").attr("stroke-width", 5);
frame(xTau, yP, tauTicks, tauMinor, porbTicks, [5, 10, 15, 20], 9, 5);
xLabels(xTau, tauTicks, tauTickLabels, 1727, 40, 1.18);
yLabels(yP, porbTicks, porbTickLabels, 182, 40, 1.18, 4);
richText(74, 1593, [{t: "P", i: true}, {t: "orb", sub: true}, {t: " [d]"}], 44, true);
richText(881, 1771, [{t: "\u03c4", i: true}, {t: "/"}, {t: "\u03c4", i: true}, {t: "sys", sub: true}], 44, false, 0.17);
</script></body></html>
